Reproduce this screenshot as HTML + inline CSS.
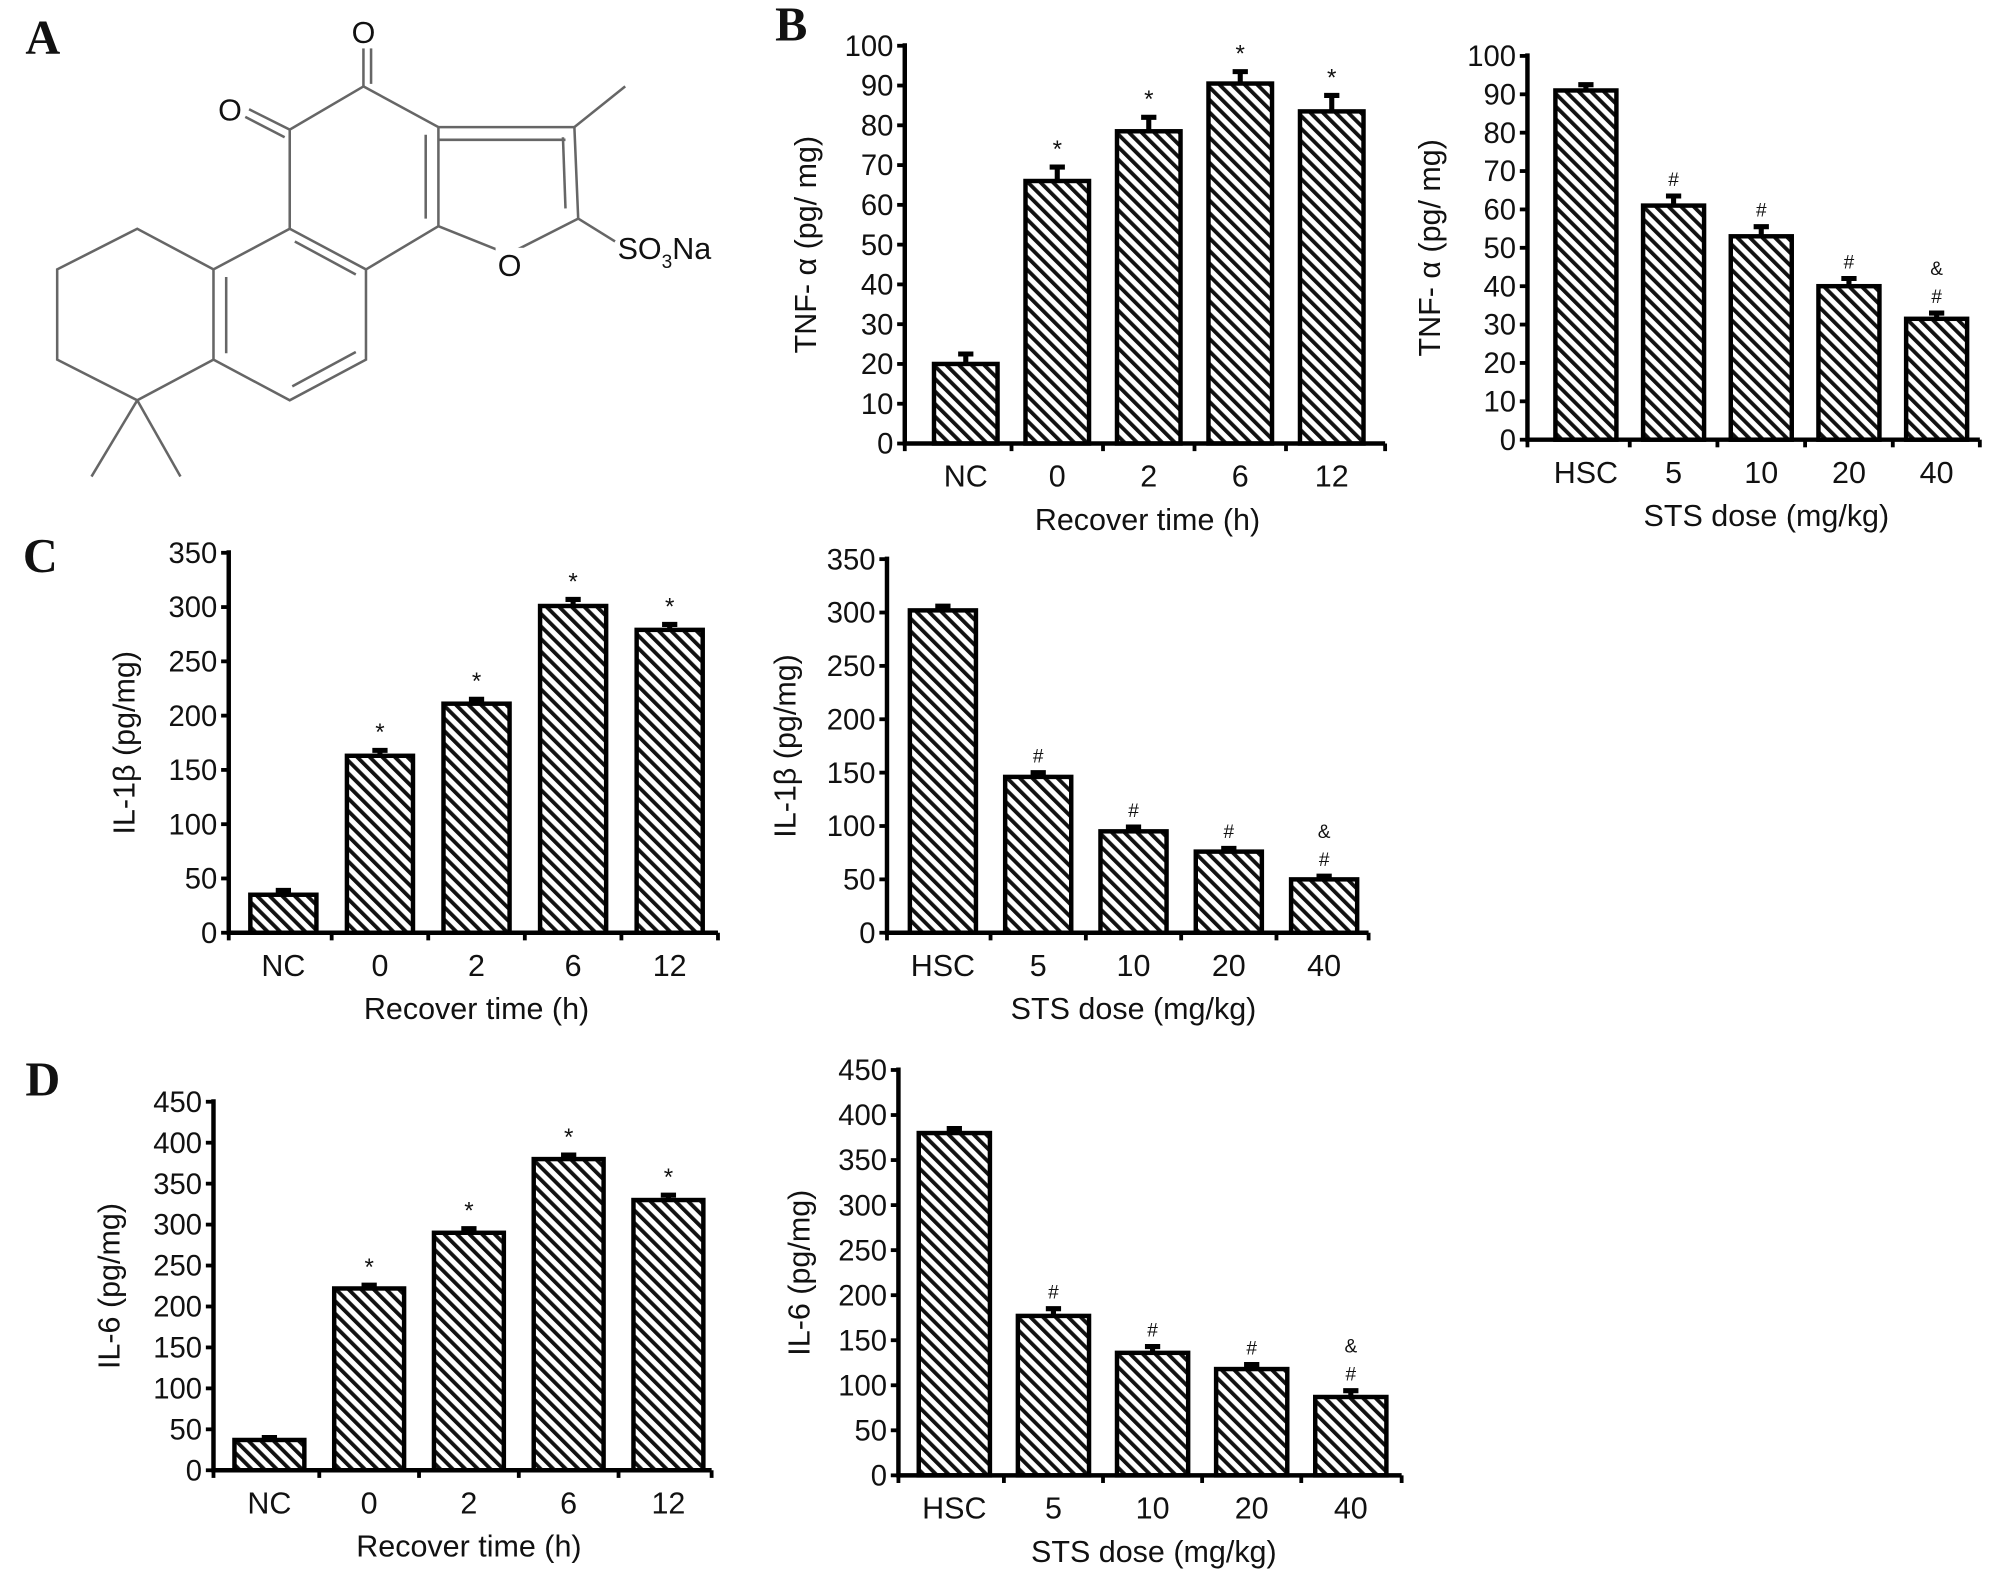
<!DOCTYPE html>
<html><head><meta charset="utf-8"><style>
html,body{margin:0;padding:0;background:#fff;}
svg{display:block;}
text{font-family:"Liberation Sans",sans-serif;fill:#111;}
.serif{font-family:"Liberation Serif",serif;font-weight:bold;}
</style></head><body>
<svg id="fig" width="1990" height="1583" viewBox="0 0 1566 1245.7">
<defs>
<pattern id="hatch" patternUnits="userSpaceOnUse" width="7" height="7" patternTransform="rotate(-45)">
<rect width="7" height="7" fill="#fff"/>
<rect x="0" y="0" width="3" height="7" fill="#111"/>
</pattern>
</defs>
<g>
<text class="serif" x="20" y="42" font-size="38">A</text>
<text class="serif" x="610" y="32" font-size="38">B</text>
<text class="serif" x="18" y="450" font-size="38">C</text>
<text class="serif" x="20" y="862" font-size="38">D</text>
</g>
<g stroke="#666" stroke-width="2" fill="none">
<polyline points="286,68 345,100 345,178 288,212 228,180 228,102 286,68"/>
<line x1="286" y1="38" x2="286" y2="68"/>
<line x1="292" y1="38" x2="292" y2="66"/>
<line x1="228" y1="102" x2="196" y2="86"/>
<line x1="224" y1="108" x2="193" y2="92"/>
<line x1="335" y1="106" x2="335" y2="172"/>
<polyline points="345,100 452,100 455,172 400,200 345,178"/>
<line x1="345" y1="110" x2="445" y2="110"/>
<line x1="443" y1="108" x2="445" y2="164"/>
<line x1="452" y1="100" x2="492" y2="68"/>
<line x1="455" y1="172" x2="484" y2="190"/>
<polyline points="228,180 168,212 168,283 228,315 288,283 288,212"/>
<line x1="178" y1="218" x2="178" y2="278"/>
<line x1="230" y1="304" x2="280" y2="277"/>
<line x1="232" y1="190" x2="280" y2="216"/>
<polyline points="168,212 108,180 45,212 45,283 108,315 168,283"/>
<line x1="108" y1="315" x2="72" y2="375"/>
<line x1="108" y1="315" x2="142" y2="375"/>
</g>
<g>
<rect x="276" y="8" width="20" height="30" fill="#fff"/>
<text x="286" y="34" font-size="24" text-anchor="middle" fill="#333">O</text>
<text x="181" y="95" font-size="24" text-anchor="middle" fill="#333">O</text>
<rect x="390" y="195" width="22" height="24" fill="#fff"/>
<text x="401" y="217" font-size="24" text-anchor="middle" fill="#333">O</text>
<text x="486" y="204" font-size="24" fill="#333">SO<tspan font-size="15" dy="7">3</tspan><tspan dy="-7">Na</tspan></text>
</g>
<g id="charts"></g>
</svg>
<script>
// Panel B left: TNF-a vs recover time
const bLeftCats = ["NC","0","2","6","12"];
const bLeftVals = [20,66,78.5,90.5,83.5];
const bLeftErr = [2.5,3.5,3.5,3,4];
const bLeftMarks = ["","*","*","*","*"];
const bLeftTicks = [0,10,20,30,40,50,60,70,80,90,100];
// Panel B right: TNF-a vs STS dose
const bRightCats = ["HSC","5","10","20","40"];
const bRightVals = [91,61,53,40,31.5];
const bRightErr = [1.5,2.5,2.5,2,1.5];
const bRightMarks = ["","#","#","#","&#"];
const bRightTicks = [0,10,20,30,40,50,60,70,80,90,100];
// Panel C left: IL-1b vs recover time
const cLeftCats = ["NC","0","2","6","12"];
const cLeftVals = [35,163,211,301,279];
const cLeftErr = [4,5,4,6,5];
const cLeftMarks = ["","*","*","*","*"];
const cLeftTicks = [0,50,100,150,200,250,300,350];
// Panel C right
const cRightCats = ["HSC","5","10","20","40"];
const cRightVals = [302,146,95,76,50];
const cRightErr = [4,4,4,3,3];
const cRightMarks = ["","#","#","#","&#"];
const cRightTicks = [0,50,100,150,200,250,300,350];
// Panel D left: IL-6
const dLeftCats = ["NC","0","2","6","12"];
const dLeftVals = [37,222,290,380,330];
const dLeftErr = [3,4,5,5,6];
const dLeftMarks = ["","*","*","*","*"];
const dLeftTicks = [0,50,100,150,200,250,300,350,400,450];
// Panel D right
const dRightCats = ["HSC","5","10","20","40"];
const dRightVals = [380,177,136,118,87];
const dRightErr = [5,8,7,5,7];
const dRightMarks = ["","#","#","#","&#"];
const dRightTicks = [0,50,100,150,200,250,300,350,400,450];

const NS="http://www.w3.org/2000/svg";
const root=document.getElementById('charts');
function el(tag,attrs,parent,txt){const e=document.createElementNS(NS,tag);for(const k in attrs)e.setAttribute(k,attrs[k]);if(txt!==undefined)e.textContent=txt;parent.appendChild(e);return e;}

function chart(name,cfg,cats,vals,errs,marks,ticks){
  const g=el('g',{},root);
  
  
  const max=ticks[ticks.length-1];
  const y=v=>cfg.y0-(v/max)*(cfg.y0-cfg.yTop);
  const x=i=>cfg.x0+cfg.first+i*cfg.pitch;
  cats.forEach((c,i)=>{
    const b=el('rect',{x:x(i)-cfg.bw/2,y:y(vals[i]),width:cfg.bw,height:cfg.y0-y(vals[i]),fill:'url(#hatch)',stroke:'#000','stroke-width':3.5},g);
    
    
    const ye=y(vals[i]+errs[i]);
    const e=el('path',{d:`M${x(i)},${y(vals[i])}V${ye}M${x(i)-6},${ye}H${x(i)+6}`,stroke:'#000','stroke-width':4,fill:'none'},g);
    
    
    const m=marks[i];
    if(m){
      const sym=m[m.length-1];
      const sz=sym==='*'?19:15;
      const t=el('text',{x:x(i),y:ye-8,'font-size':sz,'text-anchor':'middle'},g,sym);
      
      
      if(m.length>1){
        const t2=el('text',{x:x(i),y:ye-30,'font-size':15,'text-anchor':'middle'},g,m[0]);
        
        
      }
    }
    const lb=el('text',{x:x(i),y:cfg.y0+34,'font-size':24,'text-anchor':'middle'},g,c);
    
    
  });
  const ax=el('path',{d:`M${cfg.x0},${cfg.yTop-2}V${cfg.y0}H${cfg.xEnd}`,stroke:'#000','stroke-width':3.5,fill:'none'},g);
  
  
  ticks.forEach(t=>{
    el('line',{x1:cfg.x0-6,x2:cfg.x0,y1:y(t),y2:y(t),stroke:'#000','stroke-width':3},g);
    const tl=el('text',{x:cfg.x0-9,y:y(t)+8,'font-size':23,'text-anchor':'end'},g,String(t));
    
    
  });
  for(let i=0;i<=cats.length;i++){
    const tx=i===0?cfg.x0:(i===cats.length?cfg.xEnd:(x(i-1)+x(i))/2);
    el('line',{x1:tx,x2:tx,y1:cfg.y0,y2:cfg.y0+6,stroke:'#000','stroke-width':3},g);
  }
  const xt=el('text',{x:cfg.xtX,y:cfg.y0+68,'font-size':24,'text-anchor':'middle'},g,cfg.xTitle);
  
  
  const yc=(cfg.y0+cfg.yTop)/2;
  const yt=el('text',{x:cfg.ytX,y:yc,'font-size':24,'text-anchor':'middle',transform:`rotate(-90 ${cfg.ytX} ${yc})`},g,cfg.yTitle);
  
  
}
chart('chart-b-left',{x0:712,xEnd:1090,y0:349,yTop:36,first:48,pitch:72,bw:50,xTitle:'Recover time (h)',xtX:903,yTitle:'TNF- α (pg/ mg)',ytX:642},bLeftCats,bLeftVals,bLeftErr,bLeftMarks,bLeftTicks);
chart('chart-b-right',{x0:1202,xEnd:1558,y0:346,yTop:44,first:46,pitch:69,bw:48,xTitle:'STS dose (mg/kg)',xtX:1390,yTitle:'TNF- α (pg/ mg)',ytX:1133},bRightCats,bRightVals,bRightErr,bRightMarks,bRightTicks);
chart('chart-c-left',{x0:180,xEnd:565,y0:734,yTop:435,first:43,pitch:76,bw:52,xTitle:'Recover time (h)',xtX:375,yTitle:'IL-1β (pg/mg)',ytX:106},cLeftCats,cLeftVals,cLeftErr,cLeftMarks,cLeftTicks);
chart('chart-c-right',{x0:698,xEnd:1077,y0:734,yTop:440,first:44,pitch:75,bw:52,xTitle:'STS dose (mg/kg)',xtX:892,yTitle:'IL-1β (pg/mg)',ytX:626},cRightCats,cRightVals,cRightErr,cRightMarks,cRightTicks);
chart('chart-d-left',{x0:168,xEnd:560,y0:1157,yTop:867,first:44,pitch:78.5,bw:55,xTitle:'Recover time (h)',xtX:369,yTitle:'IL-6 (pg/mg)',ytX:94},dLeftCats,dLeftVals,dLeftErr,dLeftMarks,dLeftTicks);
chart('chart-d-right',{x0:707,xEnd:1103,y0:1161,yTop:842,first:44,pitch:78,bw:56,xTitle:'STS dose (mg/kg)',xtX:908,yTitle:'IL-6 (pg/mg)',ytX:637},dRightCats,dRightVals,dRightErr,dRightMarks,dRightTicks);
</script>
</body></html>
